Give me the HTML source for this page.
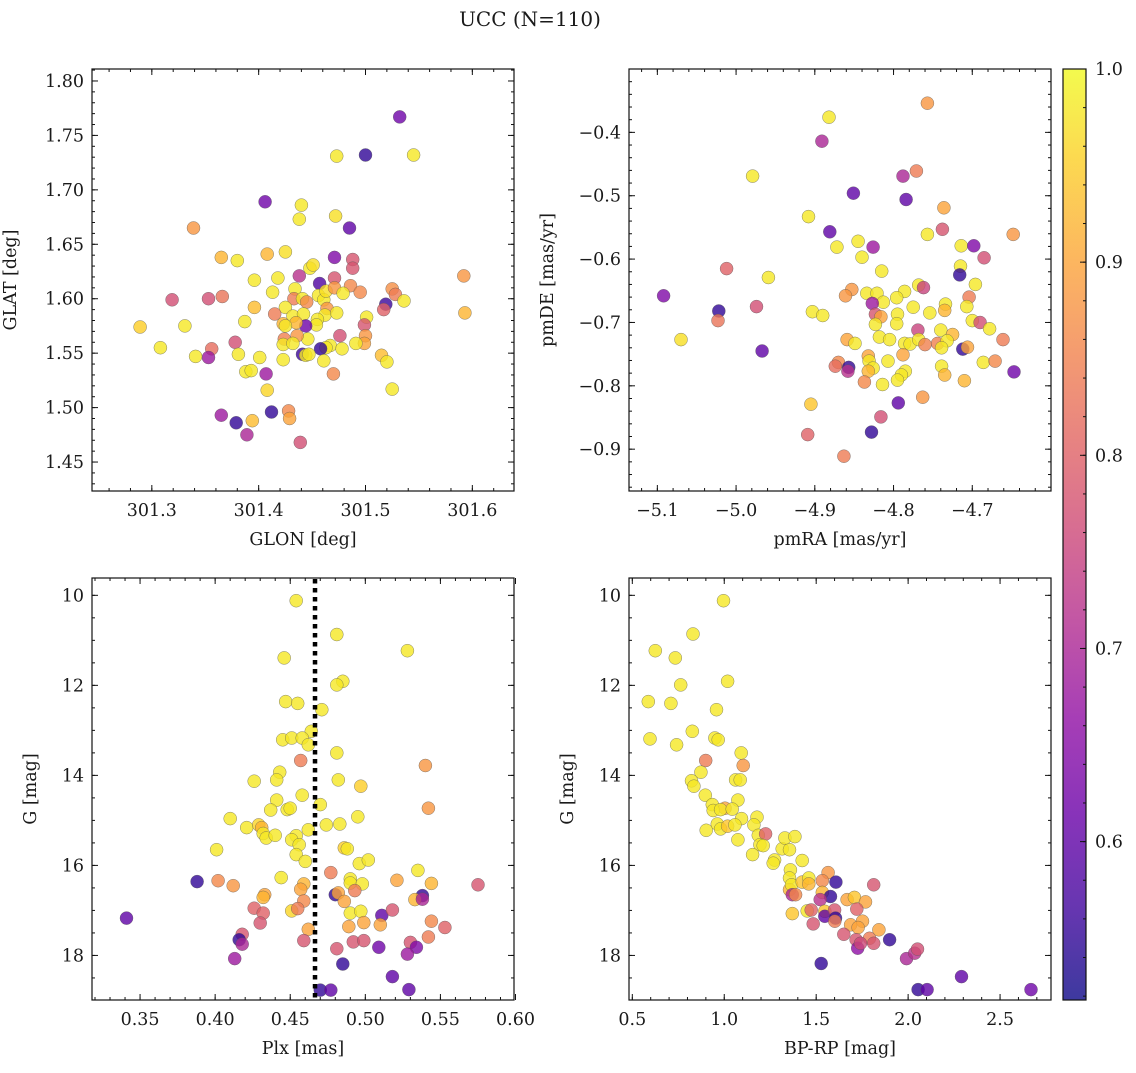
<!DOCTYPE html>
<html><head><meta charset="utf-8"><style>
body{margin:0;background:#fff;}
svg text{font-family:"DejaVu Serif","Liberation Serif",serif;fill:#1a1a1a;}
</style></head><body>
<svg id="fig" width="1136" height="1068" viewBox="0 0 1136 1068" xmlns="http://www.w3.org/2000/svg">
<defs><linearGradient id="cbgrad" x1="0" y1="1" x2="0" y2="0"></linearGradient></defs>
<text x="530" y="26" font-size="20" text-anchor="middle">UCC (N=110)</text>
<g id="layer"></g>
</svg>
<script>
// ---------- Panel 1: GLON / GLAT ----------
const p1_glon=[301.532,301.473,301.500,301.545,301.406,301.440,301.438,301.472,301.485,301.339,301.365,301.380,301.408,301.425,301.471,301.488,301.488,301.448,301.451,301.438,301.396,301.418,301.457,301.471,301.486,301.495,301.592,301.319,301.353,301.366,301.413,301.434,301.433,301.441,301.445,301.456,301.461,301.463,301.471,301.479,301.525,301.528,301.536,301.519,301.517,301.593,301.396,301.425,301.415,301.432,301.442,301.464,301.462,301.473,301.455,301.454,301.444,301.423,301.435,301.387,301.501,301.499,301.289,301.331,301.425,301.446,301.436,301.424,301.476,301.500,301.499,301.491,301.423,301.432,301.378,301.467,301.463,301.458,301.478,301.308,301.356,301.353,301.341,301.381,301.401,301.423,301.441,301.444,301.447,301.461,301.515,301.520,301.388,301.393,301.407,301.470,301.408,301.525,301.412,301.428,301.429,301.365,301.379,301.394,301.389,301.439];
const p1_glat=[1.767,1.731,1.732,1.732,1.689,1.686,1.673,1.676,1.665,1.665,1.638,1.635,1.641,1.643,1.638,1.636,1.628,1.628,1.631,1.621,1.617,1.619,1.614,1.619,1.612,1.606,1.621,1.599,1.600,1.602,1.606,1.609,1.600,1.600,1.597,1.603,1.599,1.607,1.610,1.605,1.609,1.604,1.598,1.595,1.590,1.587,1.592,1.592,1.586,1.584,1.586,1.591,1.585,1.587,1.581,1.576,1.575,1.577,1.578,1.579,1.583,1.576,1.574,1.575,1.575,1.563,1.566,1.563,1.566,1.566,1.559,1.559,1.558,1.559,1.560,1.557,1.555,1.554,1.554,1.555,1.554,1.546,1.547,1.549,1.546,1.544,1.549,1.548,1.549,1.543,1.548,1.542,1.533,1.534,1.531,1.531,1.516,1.517,1.496,1.497,1.490,1.493,1.486,1.488,1.475,1.468];
const p1_prob=[.62,.98,.55,.98,.62,.98,.98,.97,.6,.88,.92,.98,.92,.97,.64,.78,.78,.98,.97,.72,.98,.98,.58,.78,.86,.86,.88,.77,.77,.83,.98,.98,.84,.98,.86,.98,.98,.97,.88,.98,.87,.84,.98,.56,.8,.92,.93,.98,.84,.98,.98,.88,.98,.98,.98,.98,.62,.92,.92,.98,.98,.78,.95,.98,.98,.98,.88,.85,.77,.88,.9,.98,.98,.98,.77,.98,.98,.55,.98,.98,.82,.68,.98,.98,.98,.98,.56,.98,.98,.98,.93,.98,.98,.98,.68,.86,.96,.98,.55,.86,.9,.68,.55,.93,.7,.77];
// ---------- Panel 2: pmRA / pmDE ----------
const p2_pmra=[-4.757,-4.882,-4.891,-4.979,-4.788,-4.771,-4.851,-4.784,-4.736,-4.908,-4.881,-4.738,-4.648,-4.757,-4.845,-4.872,-4.826,-4.840,-4.714,-4.698,-4.685,-4.715,-4.716,-5.012,-4.959,-4.815,-4.696,-5.092,-4.853,-4.861,-4.834,-4.821,-4.768,-4.762,-4.786,-4.796,-4.813,-4.704,-4.827,-4.775,-4.754,-4.734,-4.735,-4.707,-5.022,-5.023,-4.974,-4.903,-4.890,-4.823,-4.816,-4.795,-4.796,-4.823,-4.700,-4.690,-4.678,-4.769,-4.740,-4.725,-5.070,-4.967,-4.859,-4.849,-4.818,-4.805,-4.786,-4.779,-4.768,-4.760,-4.744,-4.732,-4.739,-4.712,-4.706,-4.661,-4.788,-4.832,-4.831,-4.807,-4.686,-4.671,-4.870,-4.874,-4.857,-4.858,-4.826,-4.832,-4.785,-4.790,-4.795,-4.739,-4.735,-4.710,-4.647,-4.837,-4.814,-4.763,-4.794,-4.905,-4.816,-4.828,-4.909,-4.863];
const p2_pmde=[-0.354,-0.376,-0.414,-0.469,-0.469,-0.461,-0.496,-0.506,-0.519,-0.533,-0.557,-0.553,-0.561,-0.561,-0.572,-0.581,-0.581,-0.597,-0.579,-0.579,-0.598,-0.611,-0.625,-0.615,-0.629,-0.619,-0.640,-0.658,-0.648,-0.658,-0.654,-0.654,-0.641,-0.645,-0.651,-0.661,-0.668,-0.660,-0.670,-0.676,-0.685,-0.671,-0.681,-0.675,-0.682,-0.697,-0.675,-0.683,-0.689,-0.687,-0.691,-0.687,-0.702,-0.703,-0.697,-0.700,-0.710,-0.712,-0.712,-0.719,-0.727,-0.745,-0.727,-0.733,-0.723,-0.727,-0.733,-0.734,-0.727,-0.735,-0.733,-0.729,-0.740,-0.742,-0.739,-0.727,-0.751,-0.753,-0.761,-0.761,-0.763,-0.761,-0.763,-0.769,-0.771,-0.777,-0.772,-0.777,-0.777,-0.783,-0.791,-0.769,-0.783,-0.792,-0.778,-0.794,-0.798,-0.818,-0.827,-0.829,-0.849,-0.873,-0.877,-0.911];
const p2_prob=[.88,.98,.7,.98,.7,.84,.6,.6,.9,.98,.6,.78,.88,.98,.98,.98,.68,.98,.98,.64,.77,.98,.55,.8,.98,.98,.98,.64,.88,.88,.98,.98,.98,.75,.98,.98,.98,.84,.68,.98,.98,.98,.92,.98,.55,.83,.77,.98,.98,.78,.9,.98,.98,.98,.98,.77,.98,.75,.98,.92,.97,.6,.9,.98,.98,.98,.98,.98,.98,.85,.85,.98,.98,.55,.9,.84,.9,.9,.98,.98,.98,.86,.86,.82,.55,.72,.98,.92,.98,.98,.98,.98,.92,.92,.62,.86,.98,.88,.6,.94,.77,.55,.8,.84];
// ---------- Panel 3: Plx / G ----------
const p3_plx=[0.454,0.481,0.528,0.446,0.485,0.481,0.447,0.455,0.471,0.464,0.445,0.451,0.458,0.462,0.481,0.457,0.540,0.443,0.426,0.441,0.482,0.497,0.458,0.441,0.470,0.437,0.448,0.450,0.542,0.410,0.495,0.421,0.429,0.431,0.474,0.483,0.462,0.432,0.434,0.440,0.454,0.451,0.456,0.454,0.460,0.401,0.486,0.488,0.496,0.502,0.535,0.388,0.402,0.412,0.444,0.477,0.490,0.490,0.498,0.521,0.544,0.575,0.459,0.457,0.480,0.482,0.493,0.433,0.432,0.459,0.486,0.538,0.533,0.538,0.426,0.432,0.451,0.455,0.490,0.497,0.511,0.518,0.341,0.430,0.499,0.510,0.544,0.553,0.489,0.462,0.418,0.416,0.418,0.459,0.492,0.499,0.509,0.530,0.534,0.528,0.542,0.481,0.413,0.485,0.518,0.470,0.477,0.529];
const p3_g=[10.12,10.87,11.23,11.39,11.91,11.99,12.36,12.40,12.54,13.02,13.21,13.17,13.17,13.32,13.50,13.67,13.78,13.93,14.13,14.10,14.10,14.24,14.44,14.55,14.65,14.77,14.76,14.73,14.73,14.96,14.92,15.16,15.10,15.16,15.10,15.08,15.21,15.29,15.39,15.33,15.34,15.43,15.54,15.76,15.91,15.65,15.61,15.63,15.96,15.88,16.11,16.36,16.34,16.45,16.27,16.16,16.30,16.39,16.41,16.33,16.40,16.43,16.41,16.53,16.65,16.61,16.56,16.65,16.71,16.79,16.80,16.67,16.76,16.75,16.95,17.06,17.01,16.96,17.06,17.02,17.11,16.99,17.17,17.28,17.27,17.32,17.24,17.38,17.36,17.42,17.53,17.65,17.75,17.67,17.70,17.67,17.82,17.71,17.82,17.97,17.59,17.85,18.07,18.19,18.47,18.77,18.77,18.76];
const p3_prob=[.98,.98,.98,.98,.98,.98,.98,.98,.98,.98,.98,.98,.98,.98,.98,.84,.88,.98,.98,.98,.98,.95,.98,.98,.98,.98,.98,.98,.88,.98,.98,.98,.96,.92,.98,.98,.98,.98,.98,.98,.98,.98,.98,.98,.98,.98,.95,.98,.98,.98,.98,.55,.86,.88,.98,.84,.98,.98,.98,.9,.92,.78,.92,.9,.55,.9,.84,.9,.92,.86,.9,.55,.92,.7,.8,.8,.96,.84,.98,.98,.6,.78,.6,.78,.9,.9,.86,.8,.9,.9,.78,.55,.7,.78,.78,.78,.62,.78,.64,.68,.84,.78,.68,.55,.6,.55,.6,.6];
const p3_plxRef=0.4665;
// ---------- Panel 4: BP-RP / G ----------
const p4_bprp=[0.996,0.830,0.625,0.734,0.763,1.018,0.587,0.710,0.958,0.826,0.596,0.741,0.949,0.967,1.092,0.899,1.103,0.873,0.822,0.835,1.062,1.087,0.897,1.074,0.935,1.004,0.940,0.980,1.043,1.094,0.902,0.962,0.980,1.018,1.058,1.074,1.178,1.161,1.185,1.225,1.194,1.212,1.154,1.274,1.266,1.315,1.355,1.330,1.384,1.424,1.360,1.355,1.355,1.366,1.370,1.388,1.424,1.460,1.460,1.370,1.451,1.473,1.484,1.565,1.533,1.607,1.533,1.578,1.522,1.547,1.547,1.600,1.605,1.601,1.668,1.708,1.768,1.721,1.813,1.687,1.752,1.728,1.650,1.841,1.790,1.813,1.717,1.726,1.741,1.899,1.527,1.991,2.036,2.051,2.290,2.054,2.103,2.668];
const p4_g=[10.12,10.86,11.23,11.39,11.99,11.91,12.36,12.40,12.54,13.02,13.19,13.32,13.17,13.21,13.50,13.67,13.78,13.93,14.12,14.24,14.10,14.10,14.44,14.55,14.65,14.73,14.78,14.76,14.75,14.96,15.22,15.08,15.19,15.13,15.10,15.43,14.93,15.10,15.33,15.30,15.54,15.56,15.76,15.88,15.95,15.63,15.65,15.39,15.36,15.89,16.10,16.28,16.54,16.43,16.65,16.65,16.37,16.28,16.41,17.07,17.01,16.99,17.30,16.16,16.34,16.37,16.60,16.69,16.76,17.02,17.13,16.99,17.17,17.24,16.76,16.71,16.81,16.97,16.43,17.32,17.24,17.38,17.53,17.43,17.62,17.73,17.65,17.84,17.73,17.65,18.18,18.07,17.95,17.86,18.47,18.76,18.76,18.76];
const p4_prob=[.98,.98,.98,.98,.98,.98,.98,.98,.98,.98,.98,.98,.98,.98,.98,.84,.88,.98,.98,.98,.98,.98,.98,.98,.98,.9,.98,.98,.98,.98,.98,.98,.98,.94,.98,.98,.98,.98,.98,.8,.98,.98,.98,.98,.98,.98,.98,.98,.98,.98,.98,.98,.92,.98,.7,.86,.94,.98,.92,.94,.98,.8,.78,.88,.86,.55,.92,.55,.72,.94,.6,.78,.55,.84,.9,.94,.9,.8,.78,.9,.9,.9,.78,.9,.84,.78,.78,.66,.76,.55,.55,.7,.72,.77,.6,.55,.6,.62];
// ---------- Tick labels ----------
const t1x=[301.3,301.4,301.5,301.6], t1xl=["301.3","301.4","301.5","301.6"];
const t1y=[1.45,1.50,1.55,1.60,1.65,1.70,1.75,1.80], t1yl=["1.45","1.50","1.55","1.60","1.65","1.70","1.75","1.80"];
const t2x=[-5.1,-5.0,-4.9,-4.8,-4.7], t2xl=["\u22125.1","\u22125.0","\u22124.9","\u22124.8","\u22124.7"];
const t2y=[-0.9,-0.8,-0.7,-0.6,-0.5,-0.4], t2yl=["\u22120.9","\u22120.8","\u22120.7","\u22120.6","\u22120.5","\u22120.4"];
const t3x=[0.35,0.40,0.45,0.50,0.55,0.60], t3xl=["0.35","0.40","0.45","0.50","0.55","0.60"];
const tGy=[10,12,14,16,18], tGyl=["10","12","14","16","18"];
const t4x=[0.5,1.0,1.5,2.0,2.5], t4xl=["0.5","1.0","1.5","2.0","2.5"];
const tcb=[0.6,0.7,0.8,0.9,1.0], tcbl=["0.6","0.7","0.8","0.9","1.0"];
const VMIN=0.518, VMAX=1.0;

const NS="http://www.w3.org/2000/svg";
const FS=17.5;
const layer=document.getElementById('layer');
function el(tag,attrs,parent){const e=document.createElementNS(NS,tag);for(const k in attrs)e.setAttribute(k,attrs[k]);(parent||layer).appendChild(e);return e;}
const stops=["#0d0887","#41049d","#6a00a8","#8f0da4","#b12a90","#cc4778","#e16462","#f2844b","#fca636","#fcce25","#f0f921"];
function hex(h){return [parseInt(h.substr(1,2),16),parseInt(h.substr(3,2),16),parseInt(h.substr(5,2),16)];}
function plasma(t){t=Math.max(0,Math.min(1,t));const f=t*10,i=Math.min(9,Math.floor(f)),r=f-i;const a=hex(stops[i]),b=hex(stops[i+1]);return 'rgb('+a.map((v,k)=>Math.round(v+(b[k]-v)*r)).join(',')+')';}
function cmap(p){return plasma((p-VMIN)/(VMAX-VMIN));}

function panel(name,box,xd,yd,xt,xtl,yt,ytl,xminor,yminor,xlabel,ylabel,xs,ys,ps){
  const [L,T,R,B]=box;
  const sx=v=>L+(v-xd[0])/(xd[1]-xd[0])*(R-L);
  const sy=v=>T+(v-yd[0])/(yd[1]-yd[0])*(B-T);
  const g=el('g',{});
  
  
  const clipId='clip-'+name;
  const cp=el('clipPath',{id:clipId},g);el('rect',{x:L,y:T,width:R-L,height:B-T},cp);
  const pts=el('g',{'clip-path':'url(#'+clipId+')'},g);
  
  
  for(let i=0;i<xs.length;i++){
    const c=el('circle',{cx:sx(xs[i]).toFixed(1),cy:sy(ys[i]).toFixed(1),r:6.5,fill:cmap(ps[i]),'fill-opacity':0.8,stroke:'#555','stroke-width':0.5,'stroke-opacity':0.7},pts);
    
    
  }
  const ax=el('g',{stroke:'#111','stroke-width':1},g);
  
  
  const lo=Math.min(xd[0],xd[1]),hi=Math.max(xd[0],xd[1]);
  for(let v=Math.ceil(lo/xminor-1e-6)*xminor;v<=hi+1e-9;v+=xminor){const x=sx(v);el('line',{x1:x,y1:B,x2:x,y2:B-3},ax);el('line',{x1:x,y1:T,x2:x,y2:T+3},ax);}
  const ylo=Math.min(yd[0],yd[1]),yhi=Math.max(yd[0],yd[1]);
  for(let v=Math.ceil(ylo/yminor-1e-6)*yminor;v<=yhi+1e-9;v+=yminor){const y=sy(v);el('line',{x1:L,y1:y,x2:L+3,y2:y},ax);el('line',{x1:R,y1:y,x2:R-3,y2:y},ax);}
  xt.forEach((v,i)=>{const x=sx(v);el('line',{x1:x,y1:B,x2:x,y2:B-6},ax);el('line',{x1:x,y1:T,x2:x,y2:T+6},ax);
    const t=el('text',{x:x,y:B+25,'font-size':FS,'text-anchor':'middle'},g);t.textContent=xtl[i];
    
    });
  yt.forEach((v,i)=>{const y=sy(v);el('line',{x1:L,y1:y,x2:L+6,y2:y},ax);el('line',{x1:R,y1:y,x2:R-6,y2:y},ax);
    const t=el('text',{x:L-8,y:y+6,'font-size':FS,'text-anchor':'end'},g);t.textContent=ytl[i];
    
    });
  el('rect',{x:L,y:T,width:R-L,height:B-T,fill:'none',stroke:'#111','stroke-width':1.2},g);
  const xl=el('text',{x:(L+R)/2,y:B+54,'font-size':FS,'text-anchor':'middle'},g);xl.textContent=xlabel;
  
  
  const yx=L-(ylabel.startsWith('G ')?56:76),yy=(T+B)/2;
  const yl=el('text',{x:yx,y:yy,'font-size':FS,'text-anchor':'middle',transform:'rotate(-90 '+yx+' '+yy+')'},g);yl.textContent=ylabel;
  
  
  return {sx,sy,g};
}
panel('glon-glat',[92,69,514,491],[301.244,301.639],[1.811,1.4234],t1x,t1xl,t1y,t1yl,0.02,0.01,'GLON [deg]','GLAT [deg]',p1_glon,p1_glat,p1_prob);
panel('pm',[629,69,1051,491],[-5.136,-4.600],[-0.300,-0.966],t2x,t2xl,t2y,t2yl,0.02,0.02,'pmRA [mas/yr]','pmDE [mas/yr]',p2_pmra,p2_pmde,p2_prob);
const P3=panel('plx-g',[92,578,514,1000],[0.318,0.599],[9.615,18.99],t3x,t3xl,tGy,tGyl,0.01,0.5,'Plx [mas]','G [mag]',p3_plx,p3_g,p3_prob);
panel('cmd',[629,578,1051,1000],[0.482,2.777],[9.615,18.99],t4x,t4xl,tGy,tGyl,0.1,0.5,'BP-RP [mag]','G [mag]',p4_bprp,p4_g,p4_prob);
const rl=el('line',{x1:P3.sx(p3_plxRef),y1:579,x2:P3.sx(p3_plxRef),y2:1000,stroke:'#000','stroke-width':4.5,'stroke-dasharray':'4.5 4.5'},P3.g);


const grad=document.getElementById('cbgrad');
for(let i=0;i<=20;i++){const s=document.createElementNS(NS,'stop');s.setAttribute('offset',(i/20));s.setAttribute('stop-color',plasma(i/20));grad.appendChild(s);}
const cb=el('g',{});


const CT=69,CB=1000,CL=1063,CR=1086;
const cy=v=>CB-(v-VMIN)/(VMAX-VMIN)*(CB-CT);
el('rect',{x:CL,y:CT,width:CR-CL,height:CB-CT,fill:'url(#cbgrad)','fill-opacity':0.8},cb);
for(let v=0.52;v<=1.0001;v+=0.02){el('line',{x1:CR,y1:cy(v),x2:CR-3,y2:cy(v),stroke:'#111','stroke-width':1},cb);}
tcb.forEach((v,i)=>{el('line',{x1:CR,y1:cy(v),x2:CR-6,y2:cy(v),stroke:'#111','stroke-width':1},cb);
  const t=el('text',{x:CR+9,y:cy(v)+6,'font-size':FS},cb);t.textContent=tcbl[i];
  
  });
el('rect',{x:CL,y:CT,width:CR-CL,height:CB-CT,fill:'none',stroke:'#111','stroke-width':1.2},cb);
</script>
</body></html>
